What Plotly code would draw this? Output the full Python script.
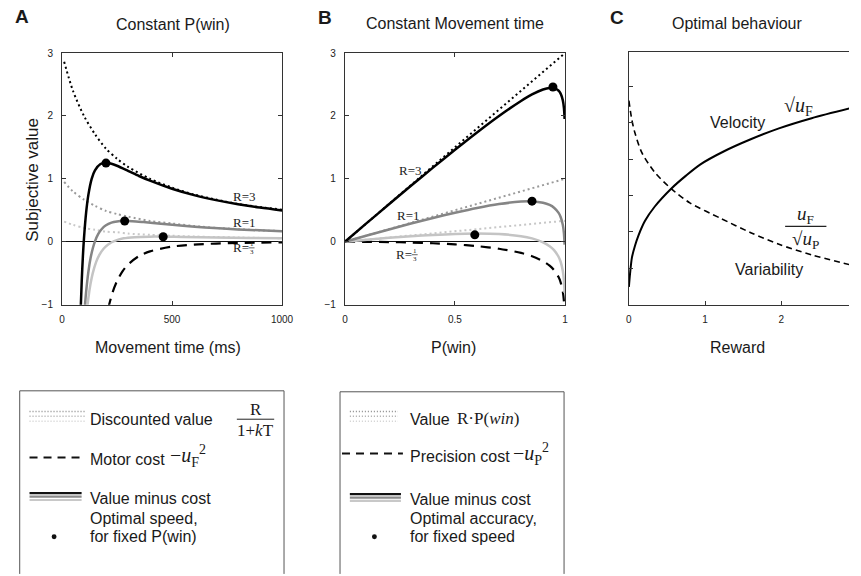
import plotly.graph_objects as go

# ---------------- Panel A: constant P(win) ----------------
A_disc_T = [10, 50, 100, 150, 200, 250, 300, 400, 500, 600, 700, 800, 900, 1000]
A_disc_R3 = [2.86, 2.40, 2.00, 1.71, 1.48, 1.32, 1.19, 1.00, 0.86, 0.75, 0.67, 0.60, 0.55, 0.51]
A_disc_R1 = [0.95, 0.80, 0.67, 0.57, 0.49, 0.44, 0.40, 0.33, 0.29, 0.25, 0.22, 0.20, 0.18, 0.17]
A_disc_R13 = [0.32, 0.27, 0.22, 0.19, 0.16, 0.15, 0.13, 0.11, 0.095, 0.083, 0.074, 0.067, 0.061, 0.056]

A_cost_T = [210, 230, 250, 275, 300, 350, 400, 500, 600, 700, 800, 1000]
A_cost = [-1.06, -0.805, -0.627, -0.471, -0.363, -0.228, -0.153, -0.078, -0.045, -0.029, -0.019, -0.010]

A_R3_T = [84, 90, 95, 100, 110, 120, 135, 150, 175, 200, 225, 250, 300, 350, 400, 500, 600, 700, 800, 900, 1000]
A_R3 = [-1.18, -0.61, -0.24, 0.05, 0.47, 0.745, 1.0, 1.135, 1.236, 1.256, 1.24, 1.208, 1.128, 1.045, 0.97,
        0.842, 0.741, 0.661, 0.596, 0.543, 0.498]
A_R1_T = [100, 105, 110, 120, 130, 140, 150, 165, 180, 200, 225, 250, 280, 320, 370, 450, 550, 650, 800, 1000]
A_R1 = [-1.24, -0.99, -0.79, -0.48, -0.26, -0.107, 0.006, 0.124, 0.199, 0.262, 0.303, 0.322, 0.332, 0.327,
        0.313, 0.287, 0.255, 0.228, 0.196, 0.165]
A_R13_T = [113, 120, 130, 140, 155, 170, 190, 210, 240, 280, 330, 400, 460, 550, 700, 850, 1000]
A_R13 = [-1.11, -0.895, -0.666, -0.499, -0.324, -0.208, -0.107, -0.043, 0.0135, 0.054, 0.073, 0.081, 0.081,
         0.077, 0.0685, 0.060, 0.054]
A_opt_T = [200, 285, 460]
A_opt_V = [1.25, 0.33, 0.08]

# ---------------- Panel B: constant movement time ----------------
B_line_p = [0, 1]
B_val_R3 = [0, 3]
B_val_R1 = [0, 1]
B_val_R13 = [0, 0.333]
B_p = [0, 0.1, 0.2, 0.3, 0.4, 0.5, 0.6, 0.7, 0.8, 0.85, 0.9, 0.93, 0.95, 0.97, 0.98, 0.99, 0.995, 0.998]
B_R3 = [0, 0.299, 0.595, 0.889, 1.178, 1.461, 1.737, 1.999, 2.238, 2.341, 2.419, 2.444, 2.441, 2.403, 2.354,
        2.247, 2.124, 1.951]
B_R1 = [0, 0.099, 0.195, 0.289, 0.378, 0.461, 0.537, 0.599, 0.638, 0.641, 0.619, 0.584, 0.541, 0.463, 0.394,
        0.267, 0.134, -0.045]
B_R13 = [0, 0.032, 0.062, 0.088, 0.109, 0.124, 0.130, 0.122, 0.089, 0.053, -0.009, -0.071, -0.133, -0.235,
         -0.318, -0.465, -0.615, -0.815]
B_cost = [0, -0.001, -0.005, -0.012, -0.024, -0.042, -0.070, -0.111, -0.178, -0.230, -0.309, -0.381, -0.450,
          -0.558, -0.645, -0.795, -0.947, -1.148]
B_opt_p = [0.59, 0.85, 0.945]
B_opt_V = [0.11, 0.645, 2.46]

# ---------------- Panel C: optimal behaviour ----------------
C_vel_x = [0.0, 0.015, 0.04, 0.08, 0.125, 0.21, 0.34, 0.555, 0.75, 0.94, 1.25, 1.6, 1.97, 2.4, 2.9]
C_vel_y = [0.49, 0.85, 1.3, 1.62, 1.9, 2.3, 2.7, 3.19, 3.55, 3.86, 4.22, 4.55, 4.85, 5.13, 5.4]
C_var_x = [0.0, 0.04, 0.08, 0.17, 0.34, 0.555, 0.8, 1.2, 1.6, 1.97, 2.4, 2.9]
C_var_y = [5.61, 5.07, 4.72, 4.18, 3.64, 3.19, 2.8, 2.38, 1.98, 1.66, 1.37, 1.1]

# tick labels
A_xticks = [0, 500, 1000]
B_xticks = [0, 0.5, 1]
B_xtick_text = ["0", "0.5", "1"]
AB_yticks = [-1, 0, 1, 2, 3]
C_xticks = [0, 1, 2]
C_yticks = [1, 2, 3, 4, 5, 6]

BLACK = "#000000"
GREY = "#858585"
LIGHT = "#c4c4c4"
DOT_GREY = "#9a9a9a"
DOT_LIGHT = "#c8c8c8"
W, H = 861, 576
SANS = "Liberation Sans, Arial, sans-serif"
SERIF = "Liberation Serif, Times New Roman, serif"

fig = go.Figure()


def line(x, y, color, width, dash="solid", ax="", shape="spline"):
    fig.add_trace(go.Scatter(x=x, y=y, mode="lines", xaxis="x" + ax, yaxis="y" + ax,
                             line=dict(color=color, width=width, dash=dash, shape=shape, smoothing=0.8),
                             showlegend=False, hoverinfo="skip"))


DOTS = "2px,3px"
# Panel A
line(A_disc_T, A_disc_R13, DOT_LIGHT, 2, DOTS)
line(A_disc_T, A_disc_R1, DOT_GREY, 2, DOTS)
line(A_disc_T, A_disc_R3, BLACK, 2, DOTS)
line(A_cost_T, A_cost, BLACK, 2.2, "10px,7px")
line(A_R13_T, A_R13, LIGHT, 2.5)
line(A_R1_T, A_R1, GREY, 2.5)
line(A_R3_T, A_R3, BLACK, 2.5)
fig.add_trace(go.Scatter(x=A_opt_T, y=A_opt_V, mode="markers", marker=dict(color=BLACK, size=9),
                         showlegend=False, hoverinfo="skip"))
# Panel B
line(B_line_p, B_val_R13, DOT_LIGHT, 2, DOTS, "2", "linear")
line(B_line_p, B_val_R1, DOT_GREY, 2, DOTS, "2", "linear")
line(B_line_p, B_val_R3, BLACK, 2, DOTS, "2", "linear")
line(B_p, B_cost, BLACK, 2.2, "10px,7px", "2")
line(B_p, B_R13, LIGHT, 2.5, ax="2")
line(B_p, B_R1, GREY, 2.5, ax="2")
line(B_p, B_R3, BLACK, 2.5, ax="2")
fig.add_trace(go.Scatter(x=B_opt_p, y=B_opt_V, mode="markers", xaxis="x2", yaxis="y2",
                         marker=dict(color=BLACK, size=9), showlegend=False, hoverinfo="skip"))
# Panel C
line(C_var_x, C_var_y, BLACK, 1.6, "6px,4px", "3")
line(C_vel_x, C_vel_y, BLACK, 2, ax="3")

AX_COL = "#333333"
tickfont = dict(family=SANS, size=10, color="#222222")


def xax(domain, rng, tickvals, ticktext=None, mirror="ticks"):
    d = dict(domain=domain, range=rng, showline=True, linecolor=AX_COL, linewidth=1, mirror=mirror,
             ticks="inside", ticklen=4, tickcolor=AX_COL, showgrid=False, zeroline=False,
             tickvals=tickvals, tickfont=tickfont, ticklabelstandoff=5, fixedrange=True)
    if ticktext is not None:
        d["ticktext"] = ticktext
    return d


def yax(domain, rng, tickvals, anchor, labels=True, mirror="ticks", zero=True):
    return dict(domain=domain, range=rng, anchor=anchor, showline=True, linecolor=AX_COL, linewidth=1,
                mirror=mirror, ticks="inside", ticklen=4, tickcolor=AX_COL, showgrid=False,
                zeroline=zero, zerolinecolor="#111111", zerolinewidth=1, tickvals=tickvals,
                showticklabels=labels, tickfont=tickfont, ticklabelstandoff=6, fixedrange=True)


ydom = [1 - 305 / H, 1 - 48 / H]
fig.update_layout(
    width=W, height=H, autosize=False, margin=dict(l=0, r=0, t=0, b=0),
    paper_bgcolor="white", plot_bgcolor="white", showlegend=False,
    xaxis=xax([60 / W, 284 / W], [0, 1000], A_xticks),
    yaxis=yax(ydom, [-1, 3], AB_yticks, "x"),
    xaxis2=dict(xax([348 / W, 572 / W], [0, 1], B_xticks, B_xtick_text), anchor="y2"),
    yaxis2=yax(ydom, [-1, 3], AB_yticks, "x2"),
    xaxis3=dict(xax([637 / W, 1.0], [0, 224 / 77.5], C_xticks, mirror=True), anchor="y3"),
    yaxis3=yax([1 - 305 / H, 1 - 47 / H], [0, 6.95], C_yticks, "x3", labels=False, mirror=False, zero=False),
)
fig.layout.xaxis.anchor = "y"

ann = []


def txt(x, y, s, size=16, family=SANS, xanchor="center", color="#1a1a1a", angle=0):
    ann.append(dict(x=x / W, y=1 - y / H, xref="paper", yref="paper", text=s, showarrow=False,
                    xanchor=xanchor, yanchor="middle", textangle=angle,
                    font=dict(family=family, size=size, color=color)))


# panel letters and titles
txt(19, 11, "<b>A</b>", 19)
txt(328, 12, "<b>B</b>", 19)
txt(625, 12, "<b>C</b>", 19)
txt(173, 19, "Constant P(win)", 16)
txt(460, 18, "Constant Movement time", 16)
txt(748, 18, "Optimal behaviour", 16)
txt(30, 177, "Subjective value", 17, angle=-90)
txt(168, 349, "Movement time (ms)", 16)
txt(458, 349, "P(win)", 16)
txt(748, 349, "Reward", 16)

# curve labels
for (xx, yy, lab) in [(246, 195, "R=3"), (246, 221, "R=1"), (415, 168, "R=3"), (413, 214, "R=1")]:
    txt(xx, yy, lab, 13, SERIF, color="#222")
for (xx, yy) in [(242, 247), (408, 254)]:
    txt(xx, yy, "R=", 13, SERIF, color="#222")
    txt(xx + 11, yy - 4, "1", 7, SERIF, color="#222")
    txt(xx + 11, yy + 4, "3", 7, SERIF, color="#222")

# panel C labels
txt(748, 119, "Velocity", 16)
txt(810, 103, "√<i>u</i><sub>F</sub>", 20, SERIF)
txt(817, 213, "<i>u</i><sub>F</sub>", 19, SERIF)
txt(817, 239, "√<i>u</i><sub>P</sub>", 19, SERIF)
txt(780, 269, "Variability", 16)

# legend A
LY = 3
txt(86, 419 + LY, "Discounted value", 16, xanchor="left")
txt(257, 412, "R", 17, SERIF)
txt(257, 434, "1+<i>k</i>T", 17, SERIF)
txt(86, 460 + LY, "Motor cost", 16, xanchor="left")
txt(168, 460, "−<i>u</i><sub>F</sub><sup>2</sup>", 20, SERIF, xanchor="left")
txt(86, 500 + LY, "Value minus cost", 16, xanchor="left")
txt(86, 520 + LY, "Optimal speed,", 16, xanchor="left")
txt(86, 539 + LY, "for fixed P(win)", 16, xanchor="left")
# legend B
txt(412, 419 + LY, "Value", 16, xanchor="left")
txt(460, 421, "R·P(<i>win</i>)", 17, SERIF, xanchor="left")
txt(412, 457 + LY, "Precision cost", 16, xanchor="left")
txt(517, 458, "−<i>u</i><sub>P</sub><sup>2</sup>", 20, SERIF, xanchor="left")
txt(412, 501 + LY, "Value minus cost", 16, xanchor="left")
txt(412, 520 + LY, "Optimal accuracy,", 16, xanchor="left")
txt(412, 539 + LY, "for fixed speed", 16, xanchor="left")

fig.update_layout(annotations=ann)

shapes = []


def seg(x0, y0, x1, y1, color="#222", width=1, dash="solid"):
    shapes.append(dict(type="line", xref="paper", yref="paper", x0=x0 / W, y0=1 - y0 / H, x1=x1 / W,
                       y1=1 - y1 / H, line=dict(color=color, width=width, dash=dash)))


# fraction bars
seg(238, 422, 276, 422, "#222", 1)
seg(796, 225, 838, 225, "#222", 1.2)
# tiny fraction bars for R=1/3
seg(250, 247, 256, 247, "#222", 0.7)
seg(416, 254, 422, 254, "#222", 0.7)

# legend boxes
for (l, r, t) in [(17, 286, 393), (343, 571, 394)]:
    seg(l, t, r, t, "#555", 1)
    seg(l, t, l, 580, "#555", 1)
    seg(r, t, r, 580, "#555", 1)

# legend samples
for (x0, x1) in [(27, 83), (353, 402)]:
    seg(x0, 414, x1, 414, "#8a8a8a", 1.5, "1px,2px")
    seg(x0, 419, x1, 419, "#a8a8a8", 1.5, "1px,2px")
    seg(x0, 424, x1, 424, "#cfcfcf", 1.5, "1px,2px")
seg(27, 461, 83, 461, "#111", 2, "8px,6px")
seg(345, 457, 407, 457, "#111", 2, "8px,6px")
for (x0, x1, yc) in [(27, 80, 501), (353, 405, 502)]:
    seg(x0, yc - 3.5, x1, yc - 3.5, "#111", 2.2)
    seg(x0, yc, x1, yc, "#8a8a8a", 2.2)
    seg(x0, yc + 3.5, x1, yc + 3.5, "#c8c8c8", 2.2)
for (cx, cy) in [(52, 542), (378, 542)]:
    shapes.append(dict(type="circle", xref="paper", yref="paper", x0=(cx - 2.5) / W, x1=(cx + 2.5) / W,
                       y0=1 - (cy + 2.5) / H, y1=1 - (cy - 2.5) / H, fillcolor="#111",
                       line=dict(color="#111", width=0)))

fig.update_layout(shapes=shapes)
fig.write_html("out.html", config={"displayModeBar": False},
               post_script="document.body.style.margin='0';document.body.style.padding='0';"
                           "document.documentElement.style.overflow='hidden';")
